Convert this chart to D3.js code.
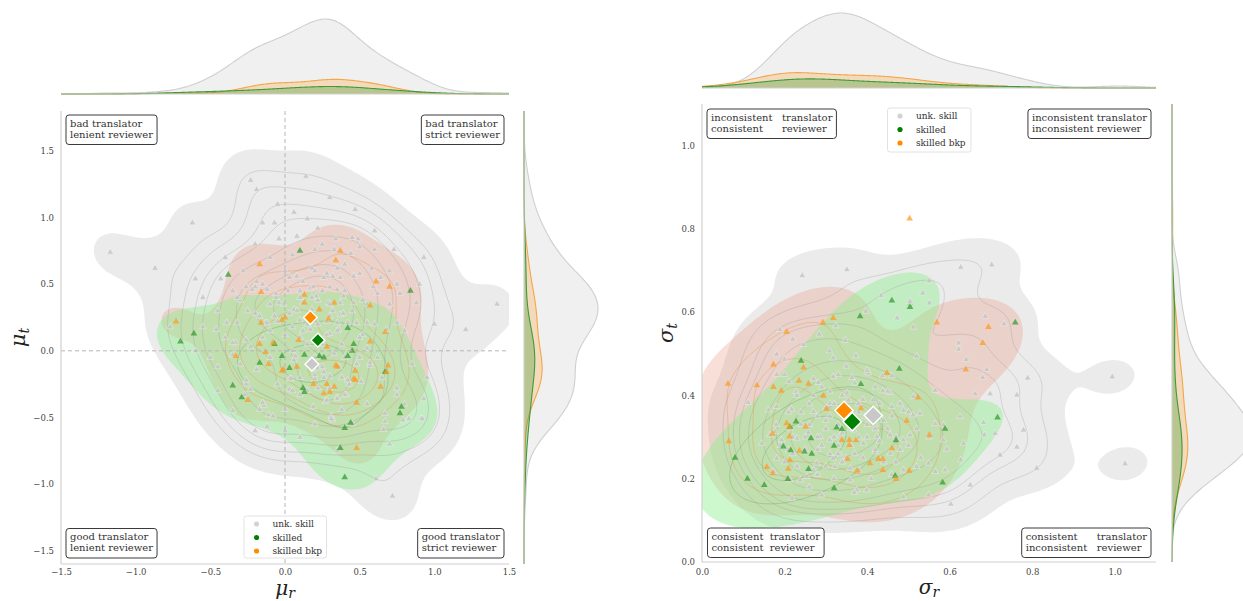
<!DOCTYPE html>
<html><head><meta charset="utf-8">
<script src="https://cdn.jsdelivr.net/npm/d3@7"></script>
<style>
body{margin:0;background:#fff}
svg{display:block}
text{font-family:"DejaVu Serif",serif}
</style>
</head><body>
<svg id="c" width="1243" height="601"></svg>
<script>
// ---------------- DATA ----------------
const groupNames = ["unk. skill", "skilled", "skilled bkp"];

// Left panel: (mu_r, mu_t)
const grayLeft = [
[-1.17,0.74],[-0.87,0.62],[-0.62,0.96],[-0.60,0.54],[-0.40,0.70],[-0.43,0.54],[-0.23,1.28],[-0.19,1.21],[-0.15,0.96],[-0.07,0.96],[-0.04,0.84],[0.06,1.04],[0.14,1.31],[0.15,0.99],[0.47,1.06],[0.34,0.84],[0.49,0.84],[0.93,0.70],[1.42,0.35],[1.21,0.16],[0.73,0.76],[0.60,0.76],[0.20,0.76],
[-0.50,-0.05],[-0.45,-0.12],[-0.19,-0.14],[-0.26,-0.25],[-0.23,-0.29],[-0.17,-0.44],[-0.14,-0.41],[-0.11,-0.48],[0.00,-0.44],[0.03,-0.21],[0.26,-0.16],[0.27,-0.38],[0.35,-0.35],[0.41,-0.33],[0.43,-0.25],[0.51,-0.23],[0.57,-0.11],[0.75,-0.28],[0.75,-0.33],[0.93,-0.36],[0.83,-0.51],[0.91,-0.51],[0.67,-0.53],[0.66,-0.59],[0.31,-0.49],[0.32,-0.52],[0.61,-0.96],[0.72,-1.09],[-0.35,-0.03],[0.06,-0.07],[0.20,-0.21],[0.26,-0.20],
[-0.19,0.52],[-0.12,0.46],[-0.06,0.40],[-0.01,0.35],[-0.20,0.28],[-0.13,0.21],[-0.07,0.26],[0.03,0.28],[0.10,0.23],[0.18,0.31],[0.17,0.47],[0.22,0.38],[0.29,0.36],[0.37,0.36],[0.30,0.26],[0.37,0.27],[0.42,0.21],[0.48,0.21],[0.36,0.16],[0.30,0.13],[0.17,0.16],[0.10,0.10],[0.07,-0.04],[0.04,-0.21],[0.20,-0.18],[0.22,-0.13],[0.30,-0.19],[0.36,-0.12],[0.42,-0.22],[0.30,-0.28],[0.40,-0.33],[0.28,-0.37],[0.35,-0.36],[0.19,-0.42],[-0.15,-0.39],[-0.27,-0.33],[-0.26,-0.22],[-0.08,-0.49],[-0.12,-0.57],[0.31,-0.51],[0.38,-0.44],[0.57,-0.09],[0.55,0.21],[0.62,0.43],[0.67,-0.47],[0.79,-0.52],[0.92,-0.51],[0.88,0.36],[-0.20,0.48],[-0.30,0.38],[-0.32,0.21],[-0.33,0.06],[-0.23,0.03],[0.03,-0.29],[0.10,-0.33],[0.50,-0.05],[0.52,0.12],
[0.08,0.56],[0.03,0.55],[0.28,0.58],[0.32,0.56],[0.37,0.55],[0.46,0.56],[0.50,0.58],[0.64,0.55],[0.75,0.50],[0.77,0.43],[0.59,0.48],[-0.26,0.48],[-0.22,0.46],[-0.32,0.40],[-0.06,0.43],[-0.04,0.36],[-0.17,0.26],[-0.12,0.21],[-0.39,0.21],[-0.46,0.16],[-0.55,0.18],[-0.77,0.18],[-0.35,0.06],[-0.26,0.08],[0.35,0.46],[0.39,0.41],[0.46,0.36],[0.35,0.21],[0.39,0.28],[0.19,0.48],[0.21,0.41],[0.12,0.36],[0.06,0.31],[0.68,0.16],[0.75,0.21],[0.08,0.86],[0.22,0.92],[0.33,0.76],[0.44,0.73],[0.50,0.78],
[0.05,0.18],[0.12,0.15],[0.22,0.20],[0.28,0.12],[0.15,0.05],[0.08,0.30],[0.18,0.40],[0.25,0.45],[0.32,0.30],[0.38,0.05],[0.33,-0.02],[0.20,-0.05],[0.10,-0.20],[0.15,-0.30],[0.25,-0.12],[0.00,0.12],[-0.05,0.22],[0.02,0.45],[0.12,0.52],[0.26,0.55],[0.40,0.45],[0.45,0.30],[0.52,0.38],[0.55,0.02],[0.48,-0.10],[0.38,-0.20],[0.22,-0.28],[0.05,-0.30],[-0.10,-0.05],[-0.15,0.10],[-0.10,0.35],[0.00,0.60],[0.18,0.62],[0.35,0.62],[0.60,0.20],[0.62,-0.05],[0.10,0.40],[0.30,0.48],[0.28,0.22],[0.17,0.28],
[-0.45,0.30],[-0.35,0.45],[-0.28,0.60],[-0.10,0.70],[0.05,0.72],[0.40,0.65],[0.58,0.62],[0.70,0.35],[0.80,0.15],[0.85,-0.10],[0.65,-0.20],[0.55,-0.40],[0.45,-0.55],[0.20,-0.55],[0.00,-0.60],[-0.30,-0.10],[-0.40,0.10],[-0.05,-0.25],[0.15,0.20],[0.30,0.35],[0.25,0.05],[0.10,0.45],[-0.15,0.50],[0.50,0.10],[0.40,-0.05],[-0.55,0.40],[-0.20,0.80],[0.25,0.80],[0.60,0.90],[0.90,0.50],[1.00,0.20],[0.95,-0.20],[0.70,-0.70],[0.35,-0.75],[0.10,-0.65],[-0.20,-0.60],[-0.45,-0.30],[-0.60,0.00],[-0.10,0.15],[0.05,0.00],[0.35,0.15],[0.55,0.35],[0.20,0.60],[-0.25,0.30],[0.70,0.60],[0.45,0.85],[-0.05,1.10],[0.30,1.15],[0.80,-0.40],[-0.35,-0.45]
];
const greenLeft = [
[-0.70,0.07],[-0.61,0.13],[-0.38,0.57],[0.10,0.75],[0.84,0.45],[0.42,0.17],[0.46,0.05],[0.45,0.00],[-0.07,0.05],[0.13,-0.03],[0.26,-0.05],[0.42,-0.04],[-0.02,-0.04],[-0.17,-0.09],[0.03,-0.13],[0.67,-0.16],[-0.35,-0.26],[-0.29,-0.35],[0.12,-0.28],[0.13,-0.31],[0.78,-0.42],[0.77,-0.47],[0.44,-0.54],[0.40,-0.58],[0.37,-0.73],[0.40,-0.95],[0.23,-0.04]
];
const orangeLeft = [
[-0.73,0.22],[-0.17,0.65],[-0.16,0.44],[0.37,0.75],[0.34,0.68],[0.13,0.42],[0.33,0.36],[0.23,0.31],[0.61,0.52],[0.70,0.48],[0.57,0.34],[0.67,0.14],[0.57,0.07],[0.29,0.24],[0.09,0.08],[-0.17,0.05],[-0.33,-0.04],[-0.11,-0.10],[-0.02,-0.15],[0.08,-0.12],[0.34,-0.11],[0.47,-0.15],[0.69,-0.11],[0.68,-0.16],[0.19,-0.25],[0.28,-0.25],[0.33,-0.27],[0.30,-0.31],[0.26,-0.32],[0.46,-0.21],[0.64,-0.27],[0.48,-0.39],[-0.25,-0.37],[0.48,-0.73],[-0.13,-0.01],[0.28,0.03],[-0.02,0.23],[-0.01,-0.14],[0.35,-0.12],[0.47,-0.22],[-0.16,0.21],[-0.08,0.06],[0.13,0.36],[0.00,0.25]
];
// group centre markers (gray, green, orange)
const meansLeft = [[0.18,-0.10],[0.22,0.08],[0.17,0.25]];

// Right panel: (sigma_r, sigma_t)
const grayRight = [
[0.243,0.688],[0.351,0.702],[0.627,0.708],[0.702,0.714],[0.550,0.675],[0.535,0.646],[0.434,0.640],[0.504,0.626],[0.551,0.622],[0.397,0.602],[0.473,0.586],[0.512,0.564],[0.324,0.567],[0.189,0.558],[0.220,0.535],[0.284,0.547],[0.347,0.532],[0.246,0.522],[0.181,0.499],[0.309,0.507],[0.318,0.490],[0.373,0.495],[0.200,0.487],[0.520,0.494],[0.622,0.526],[0.622,0.511],[0.640,0.486],[0.690,0.462],[0.680,0.443],[0.732,0.572],[0.686,0.590],[0.789,0.442],[0.763,0.401],[0.698,0.404],[0.662,0.404],[0.565,0.412],[0.181,0.450],[0.200,0.450],[0.112,0.383],[0.211,0.433],[0.228,0.409],[0.282,0.431],[0.318,0.445],[0.363,0.443],[0.403,0.454],[0.437,0.447],[0.460,0.447],[0.438,0.411],[0.456,0.407],[0.351,0.406],[0.355,0.389],[0.415,0.389],[0.379,0.381],[0.310,0.381],[0.512,0.397],[0.488,0.364],[0.528,0.357],[0.511,0.353],[0.460,0.373],[0.161,0.365],[0.181,0.373],[0.217,0.367],[0.270,0.361],[0.395,0.349],[0.625,0.349],[0.682,0.335],[0.684,0.305],[0.710,0.309],[0.779,0.317],[0.565,0.332],[0.585,0.329],[0.585,0.293],[0.593,0.271],[0.634,0.285],[0.627,0.245],[0.722,0.257],[0.763,0.276],[0.811,0.225],[0.650,0.185],[0.145,0.285],[0.165,0.305],[0.193,0.293],[0.177,0.313],[0.213,0.321],[0.230,0.297],[0.258,0.311],[0.286,0.301],[0.310,0.293],[0.335,0.305],[0.367,0.317],[0.391,0.285],[0.424,0.301],[0.456,0.305],[0.488,0.293],[0.504,0.305],[0.419,0.265],[0.456,0.261],[0.335,0.257],[0.318,0.249],[0.322,0.229],[0.359,0.225],[0.278,0.237],[0.254,0.205],[0.238,0.197],[0.213,0.197],[0.181,0.249],[0.209,0.269],[0.173,0.217],[0.359,0.197],[0.399,0.173],[0.488,0.221],[0.520,0.229],[0.549,0.237],[0.565,0.217],[0.589,0.221],[0.549,0.161],[0.290,0.161],[0.375,0.173],[0.347,0.345],[0.419,0.329],
[1.025,0.236],[0.603,0.139],[0.488,0.156],[0.369,0.167],[0.218,0.153],[0.994,0.445],
[0.25,0.30],[0.28,0.27],[0.30,0.32],[0.33,0.28],[0.35,0.25],[0.27,0.22],[0.22,0.26],[0.31,0.35],[0.26,0.38],[0.38,0.30],[0.42,0.27],[0.36,0.36],[0.30,0.23],[0.24,0.33],[0.20,0.24],[0.40,0.33],[0.34,0.40],[0.29,0.42],[0.45,0.32],[0.47,0.24],[0.32,0.20],[0.26,0.18],[0.38,0.22],[0.23,0.40],[0.18,0.33],[0.43,0.38],[0.50,0.28],[0.28,0.30],[0.33,0.33],[0.37,0.26],
[0.30,0.34],[0.34,0.31],[0.37,0.34],[0.41,0.36],[0.44,0.34],[0.39,0.39],[0.35,0.37],[0.32,0.38],[0.28,0.35],[0.26,0.33],[0.29,0.28],[0.31,0.26],[0.36,0.28],[0.40,0.30],[0.43,0.29],[0.46,0.35],[0.48,0.38],[0.42,0.42],[0.37,0.43],[0.33,0.45],[0.27,0.40],[0.24,0.36],[0.22,0.30],[0.25,0.27],[0.34,0.24],[0.39,0.25],[0.44,0.24],[0.48,0.27],[0.52,0.32],[0.50,0.36],[0.23,0.23],[0.28,0.21],[0.41,0.20],[0.46,0.21],[0.53,0.25],[0.55,0.30],[0.31,0.41],[0.35,0.47],[0.40,0.46],[0.45,0.41],[0.19,0.28],[0.21,0.36],[0.27,0.44],[0.32,0.30],[0.36,0.32],[0.42,0.32],[0.38,0.36],[0.30,0.37],[0.33,0.26],[0.47,0.30]
];
const greenRight = [
[0.460,0.628],[0.504,0.612],[0.383,0.590],[0.759,0.575],[0.240,0.483],[0.478,0.464],[0.385,0.427],[0.716,0.347],[0.326,0.323],[0.339,0.319],[0.228,0.337],[0.213,0.324],[0.264,0.297],[0.197,0.277],[0.215,0.268],[0.248,0.265],[0.266,0.260],[0.320,0.279],[0.470,0.292],[0.589,0.320],[0.258,0.223],[0.208,0.199],[0.151,0.185],[0.320,0.177],[0.468,0.207],[0.583,0.191],[0.080,0.250],[0.110,0.200]
];
const orangeRight = [
[0.293,0.575],[0.318,0.586],[0.205,0.552],[0.173,0.474],[0.246,0.467],[0.133,0.424],[0.173,0.420],[0.192,0.411],[0.235,0.435],[0.258,0.428],[0.294,0.399],[0.448,0.454],[0.523,0.395],[0.569,0.575],[0.694,0.564],[0.680,0.526],[0.639,0.462],[0.302,0.367],[0.385,0.369],[0.496,0.339],[0.205,0.333],[0.211,0.324],[0.251,0.325],[0.171,0.308],[0.212,0.301],[0.339,0.293],[0.357,0.293],[0.373,0.292],[0.357,0.280],[0.236,0.267],[0.213,0.244],[0.209,0.224],[0.157,0.228],[0.171,0.213],[0.353,0.247],[0.407,0.237],[0.427,0.247],[0.438,0.247],[0.376,0.219],[0.438,0.221],[0.460,0.273],[0.551,0.305],[0.502,0.219],[0.470,0.199],[0.503,0.825],[0.063,0.428],[0.065,0.290]
];
const meansRight = [[0.415,0.352],[0.364,0.337],[0.344,0.364]];

const leftTicks = [-1.5,-1.0,-0.5,0.0,0.5,1.0,1.5];
const rightTicks = [0.0,0.2,0.4,0.6,0.8,1.0];

const leftNotes = [
  ["bad translator","lenient reviewer"],
  ["bad translator","strict reviewer"],
  ["good translator","lenient reviewer"],
  ["good translator","strict reviewer"]
];
const rightNotes = [
  ["inconsistent   translator","consistent      reviewer"],
  ["inconsistent translator","inconsistent reviewer"],
  ["consistent  translator","consistent  reviewer"],
  ["consistent      translator","inconsistent   reviewer"]
];

// ---------------- STYLE ----------------
const COL = {
  pt:    ["#c4c4c4", "#2f9a2f", "#ff9a1f"],
  mean:  ["#c8c8c8", "#008000", "#ff8c00"],
  leg:   ["#d3d3d3", "#008000", "#ff8c00"],
  fill2: ["#d3d3d3", "#90ee90", "#e9967a"],
  fillOp:[0.45, 0.45, 0.3],
  line2: ["#9a9a9a", "#2e8b2e", "#e8883a"],
  lineOp:[0.4, 0.3, 0.4],
  mFill: ["#d3d3d3", "#008000", "#ff8c00"],
  mFillOp:[0.35, 0.24, 0.22],
  mLine: ["#cfcfcf", "#3d9a3d", "#f5a54a"]
};

const svg = d3.select("#c");
const defs = svg.append("defs");

// ---------------- KDE helpers ----------------
function kde2d(pts, weight, size){
  const n = pts.length;
  const mx = d3.mean(pts, d=>d[0]), my = d3.mean(pts, d=>d[1]);
  let sxx=0, syy=0, sxy=0;
  for (const [x,y] of pts){ sxx+=(x-mx)*(x-mx); syy+=(y-my)*(y-my); sxy+=(x-mx)*(y-my); }
  const f2 = Math.pow(n, -2/6)/(n-1);
  const a=sxx*f2, b=sxy*f2, c=syy*f2;
  const det=a*c-b*b, ia=c/det, ib=-b/det, ic=a/det;
  const norm = weight/(2*Math.PI*Math.sqrt(det)*n);
  const bx=Math.sqrt(a), by=Math.sqrt(c);
  const x0=d3.min(pts,d=>d[0])-3*bx, x1=d3.max(pts,d=>d[0])+3*bx;
  const y0=d3.min(pts,d=>d[1])-3*by, y1=d3.max(pts,d=>d[1])+3*by;
  const grid = {nx:size, ny:size, x0, y0, dx:(x1-x0)/(size-1), dy:(y1-y0)/(size-1)};
  const values = new Float64Array(size*size);
  for (let j=0;j<size;j++){
    const yy=y0+j*grid.dy;
    for (let i=0;i<size;i++){
      const xx=x0+i*grid.dx; let s=0;
      for (let k=0;k<n;k++){
        const u=xx-pts[k][0], v=yy-pts[k][1];
        s+=Math.exp(-0.5*(ia*u*u+2*ib*u*v+ic*v*v));
      }
      values[i+j*size]=s*norm;
    }
  }
  return {values, grid};
}
function isoLevels(values, props){
  const sorted = Array.from(values).sort((p,q)=>q-p);
  const total = d3.sum(sorted);
  const cum = []; let acc=0;
  for (const v of sorted){ acc+=v; cum.push(acc/total); }
  return props.map(p=>{
    let idx = d3.bisectLeft(cum, 1-p);
    idx = Math.min(idx, sorted.length-1);
    return sorted[idx];
  });
}
function kde1d(vals, N, grid){
  const n=vals.length;
  const bw=d3.deviation(vals)*Math.pow(n,-1/5);
  const k=1/(N*bw*Math.sqrt(2*Math.PI));
  return grid.map(g=>[g, k*d3.sum(vals, v=>Math.exp(-0.5*((g-v)/bw)*((g-v)/bw)))]);
}

// ---------------- PANEL ----------------
function drawPanel(cfg){
  const {x, y, sets, means, ticks, id} = cfg;
  const [X0,X1] = x.range(); const [Y0,Y1] = y.range();
  const g = svg.append("g");
  defs.append("clipPath").attr("id", id).append("rect")
    .attr("x", X0).attr("y", Y1).attr("width", X1-X0).attr("height", Y0-Y1);
  const plot = g.append("g").attr("clip-path", `url(#${id})`);

  const N = d3.sum(sets, s=>s.length);
  const size = 150;
  const kd = sets.map(p=>kde2d(p, p.length/N, size));
  const concat = new Float64Array(size*size*sets.length);
  kd.forEach((k,i)=>concat.set(k.values, i*size*size));
  const props = d3.range(10).map(i=>0.05+i*(0.95/9));
  const levels = isoLevels(concat, props).slice(0,9);
  kd.forEach(k=>{
    const gr=k.grid;
    k.path = d3.geoPath(d3.geoTransform({point(px,py){
      this.stream.point(x(gr.x0+(px-0.5)*gr.dx), y(gr.y0+(py-0.5)*gr.dy));
    }}));
    k.contours = d3.contours().size([gr.nx,gr.ny]).thresholds(levels)(Array.from(k.values));
  });

  const drawOrder = [0,2,1]; // gray, orange, green
  drawOrder.forEach(gi=>{
    const k=kd[gi];
    plot.append("path").datum(k.contours[0]).attr("d", k.path)
      .attr("fill", COL.fill2[gi]).attr("fill-opacity", COL.fillOp[gi]).attr("stroke","none");
  });
  drawOrder.forEach(gi=>{
    const k=kd[gi];
    plot.append("g").selectAll("path").data(k.contours.slice(1)).join("path")
      .attr("d", k.path).attr("fill","none")
      .attr("stroke", COL.line2[gi]).attr("stroke-opacity", COL.lineOp[gi]).attr("stroke-width", 0.8);
  });

  if (cfg.refLines){
    g.append("line").attr("x1", x(0)).attr("x2", x(0)).attr("y1", Y1).attr("y2", Y0)
      .attr("stroke","#b5b5b5").attr("stroke-width",1).attr("stroke-dasharray","4,3");
    g.append("line").attr("x1", X0).attr("x2", X1).attr("y1", y(0)).attr("y2", y(0))
      .attr("stroke","#b5b5b5").attr("stroke-width",1).attr("stroke-dasharray","4,3");
  }

  // scatter
  const tri = d3.symbol().type(d3.symbolTriangle).size(19);
  [0,1,2].forEach(gi=>{
    plot.append("g").selectAll("path").data(sets[gi]).join("path")
      .attr("d", tri)
      .attr("transform", d=>`translate(${x(d[0])},${y(d[1])})`)
      .attr("fill", COL.pt[gi]).attr("fill-opacity", gi===0?0.8:0.72)
      .attr("stroke", gi===0?"#ffffff":"none").attr("stroke-width", 0.5).attr("stroke-opacity",0.7);
  });
  // centre markers
  const dia = d3.symbol().type(d3.symbolSquare).size(cfg.meanSize);
  [0,2,1].forEach(gi=>{
    g.append("path").attr("d", dia)
      .attr("transform", `translate(${x(means[gi][0])},${y(means[gi][1])}) rotate(45)`)
      .attr("fill", COL.mean[gi]).attr("stroke","#fff").attr("stroke-width",1.4);
  });

  // spines
  g.append("line").attr("x1",X0).attr("x2",X0).attr("y1",Y1).attr("y2",Y0).attr("stroke","#d0d0d0").attr("stroke-width",1.2);
  g.append("line").attr("x1",X0).attr("x2",X1).attr("y1",Y0).attr("y2",Y0).attr("stroke","#d0d0d0").attr("stroke-width",1.2);

  // axes (labels only)
  const fmt = d3.format(".1f");
  const ax = g.append("g").attr("transform",`translate(0,${Y0})`)
    .call(d3.axisBottom(x).tickValues(ticks.x).tickFormat(fmt).tickSize(0).tickPadding(cfg.xPad));
  const ay = g.append("g").attr("transform",`translate(${X0},0)`)
    .call(d3.axisLeft(y).tickValues(ticks.y).tickFormat(fmt).tickSize(0).tickPadding(7));
  [ax,ay].forEach(a=>{
    a.select(".domain").remove();
    a.selectAll("text").attr("font-family","DejaVu Serif").attr("font-size",8.5).attr("fill","#444");
  });

  // marginals
  const gx = d3.range(301).map(i=>x.domain()[0]+i*(x.domain()[1]-x.domain()[0])/300);
  const gy = d3.range(301).map(i=>y.domain()[0]+i*(y.domain()[1]-y.domain()[0])/300);
  const mxC = sets.map(s=>kde1d(s.map(d=>d[0]), N, gx));
  const myC = sets.map(s=>kde1d(s.map(d=>d[1]), N, gy));
  const hx = d3.scaleLinear([0, d3.max(mxC, c=>d3.max(c, d=>d[1]))], [cfg.topBase, cfg.topPeak]);
  const wy = d3.scaleLinear([0, d3.max(myC, c=>d3.max(c, d=>d[1]))], [cfg.sideBase, cfg.sidePeak]);
  const areaX = d3.area().x(d=>x(d[0])).y0(cfg.topBase).y1(d=>hx(d[1])).curve(d3.curveBasis);
  const lineX = d3.line().x(d=>x(d[0])).y(d=>hx(d[1])).curve(d3.curveBasis);
  const areaY = d3.area().y(d=>y(d[0])).x0(cfg.sideBase).x1(d=>wy(d[1])).curve(d3.curveBasis);
  const lineY = d3.line().y(d=>y(d[0])).x(d=>wy(d[1])).curve(d3.curveBasis);
  drawOrder.forEach(gi=>{
    g.append("path").attr("d", areaX(mxC[gi])).attr("fill", COL.mFill[gi]).attr("fill-opacity", COL.mFillOp[gi]);
    g.append("path").attr("d", lineX(mxC[gi])).attr("fill","none").attr("stroke", COL.mLine[gi]).attr("stroke-width",1.1);
    g.append("path").attr("d", areaY(myC[gi])).attr("fill", COL.mFill[gi]).attr("fill-opacity", COL.mFillOp[gi]);
    g.append("path").attr("d", lineY(myC[gi])).attr("fill","none").attr("stroke", COL.mLine[gi]).attr("stroke-width",1.1);
  });
  g.append("line").attr("x1",X0).attr("x2",X1).attr("y1",cfg.topBase).attr("y2",cfg.topBase).attr("stroke","#d0d0d0").attr("stroke-width",1.2);
  g.append("line").attr("x1",cfg.sideBase).attr("x2",cfg.sideBase).attr("y1",Y1).attr("y2",Y0).attr("stroke","#d0d0d0").attr("stroke-width",1.2);

  // annotation boxes
  cfg.notes.forEach((lines, i)=>{
    const pos = cfg.notePos[i];
    const t = g.append("text").attr("font-size",10).attr("fill","#333")
      .attr("xml:space","preserve").style("white-space","pre");
    lines.forEach((s,li)=>t.append("tspan").attr("x",0).attr("y",li*11).text(s));
    let w=0; t.selectAll("tspan").each(function(){ w=Math.max(w,this.getComputedTextLength()); });
    const bw = w+8, bh = 29.5;
    const left = pos.anchor==="left" ? pos.x : pos.x-bw;
    g.insert("rect", () => t.node()).attr("x",left).attr("y",pos.y).attr("width",bw).attr("height",bh)
      .attr("rx",3).attr("fill","#fff").attr("stroke","#3a3a3a").attr("stroke-width",1);
    t.attr("transform",`translate(${left+4},${pos.y+11.5})`);
  });

  // legend
  const L = cfg.legend;
  const lg = g.append("g");
  lg.append("rect").attr("x",L.x).attr("y",L.y).attr("width",L.w).attr("height",L.h).attr("rx",2.5)
    .attr("fill","#fff").attr("fill-opacity",0.85).attr("stroke","#e2e2e2");
  groupNames.forEach((nm,i)=>{
    const cy = L.y+8+i*13.5;
    lg.append("circle").attr("cx",L.x+12.5).attr("cy",cy).attr("r",2.6).attr("fill",COL.leg[i]);
    lg.append("text").attr("x",L.x+28.5).attr("y",cy+3).attr("font-size",9).attr("fill","#333").text(nm);
  });

  // axis titles
  const xt = g.append("text").attr("x",(X0+X1)/2).attr("y",cfg.xTitleY).attr("text-anchor","middle")
    .attr("font-family","DejaVu Sans").attr("font-style","italic").attr("font-size",20).attr("fill","#222");
  xt.append("tspan").text(cfg.sym[0]);
  xt.append("tspan").attr("font-size",14).attr("dy",3).text(cfg.sym[1]);
  const yt = g.append("text").attr("transform",`translate(${cfg.yTitleX},${(Y0+Y1)/2}) rotate(-90)`).attr("text-anchor","middle")
    .attr("font-family","DejaVu Sans").attr("font-style","italic").attr("font-size",21).attr("fill","#222");
  yt.append("tspan").text(cfg.sym[0]);
  yt.append("tspan").attr("font-size",14).attr("dy",4).text(cfg.sym[2]);
}

drawPanel({
  id:"clipL",
  x: d3.scaleLinear([-1.5,1.5],[61,509]),
  y: d3.scaleLinear([-1.6,1.8],[564,111]),
  sets:[grayLeft, greenLeft, orangeLeft],
  means: meansLeft, meanSize: 95,
  ticks:{x:leftTicks, y:leftTicks}, xPad:5,
  refLines:true,
  topBase:94, topPeak:19, sideBase:524, sidePeak:598,
  notes: leftNotes,
  notePos:[{anchor:"left",x:66,y:115},{anchor:"right",x:504,y:115},{anchor:"left",x:66,y:528.5},{anchor:"right",x:504,y:528.5}],
  legend:{x:244,y:516,w:82.5,h:42},
  sym:["μ","r","t"], xTitleY:595, yTitleX:25
});
drawPanel({
  id:"clipR",
  x: d3.scaleLinear([0,1.1],[702,1156]),
  y: d3.scaleLinear([0,1.1],[562,104]),
  sets:[grayRight, greenRight, orangeRight],
  means: meansRight, meanSize: 165,
  ticks:{x:rightTicks, y:rightTicks}, xPad:7,
  refLines:false,
  topBase:88, topPeak:13, sideBase:1172, sidePeak:1252,
  notes: rightNotes,
  notePos:[{anchor:"left",x:707,y:109},{anchor:"right",x:1151,y:109},{anchor:"left",x:707.5,y:528},{anchor:"right",x:1151,y:528}],
  legend:{x:887.5,y:108,w:83.5,h:44},
  sym:["σ","r","t"], xTitleY:594, yTitleX:673
});
</script>
</body></html>
